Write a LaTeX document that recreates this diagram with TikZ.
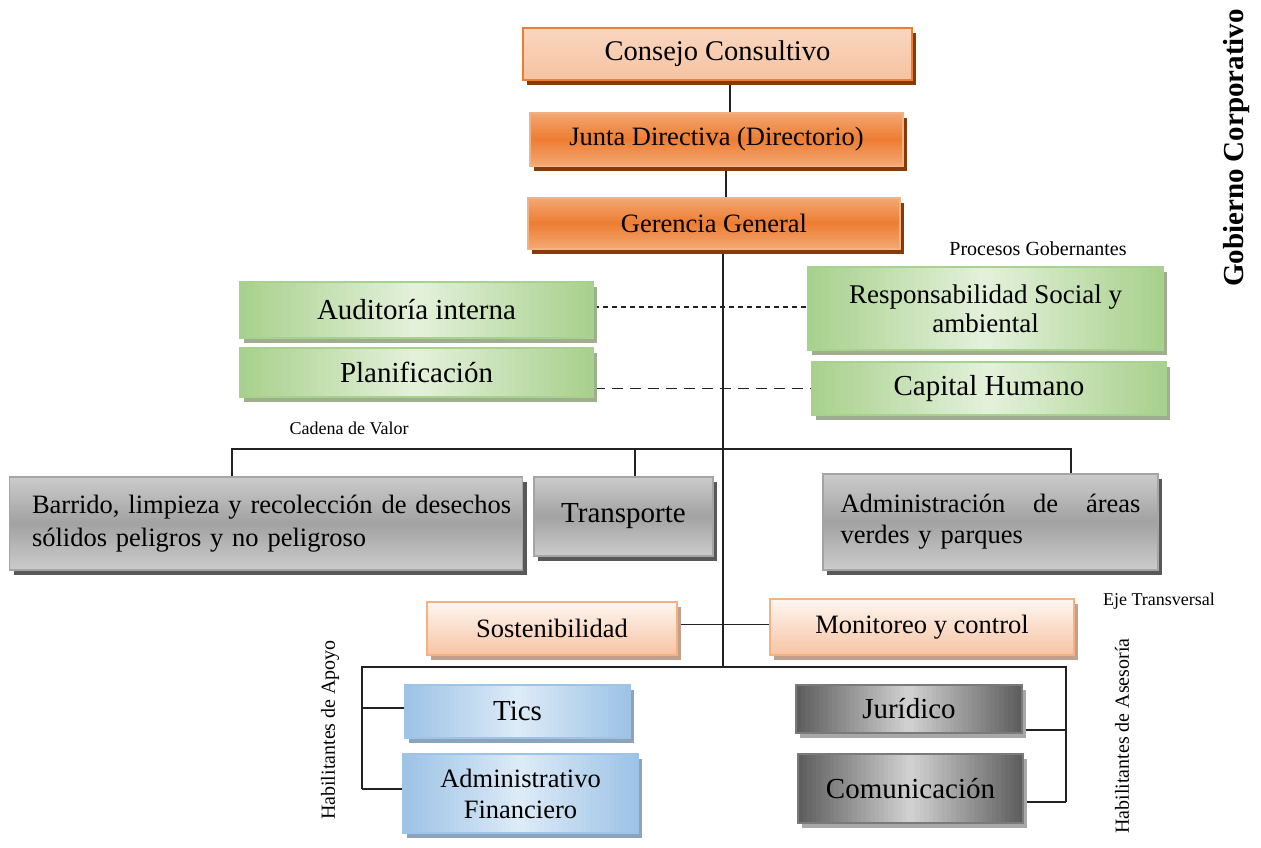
\documentclass[tikz,border=0pt]{standalone}
\usepackage{fontspec}
\setmainfont{Liberation Serif}
\usetikzlibrary{shadows,calc}
\pgfdeclarelayer{background}
\pgfsetlayers{background,main}
\definecolor{orB}{HTML}{ED7D31}
\definecolor{orL}{HTML}{F4B183}
\definecolor{orS}{HTML}{843C0C}
\definecolor{orT}{HTML}{F3A672}
\definecolor{grnB}{HTML}{A9D18E}
\definecolor{grnL}{HTML}{E4F1DB}
\definecolor{grnS}{HTML}{9EAE8E}
\definecolor{gyA}{HTML}{CACACA}
\definecolor{gyB}{HTML}{A2A2A2}
\definecolor{gyD}{HTML}{A5A5A5}
\definecolor{gryS}{HTML}{595959}
\definecolor{peS}{HTML}{C3A08C}
\definecolor{bluB}{HTML}{9DC3E6}
\definecolor{bluL}{HTML}{DEEBF7}
\definecolor{bluS}{HTML}{8CA3BC}
\definecolor{dgA}{HTML}{5E5E5E}
\definecolor{dgB}{HTML}{D2D2D2}
\definecolor{dgD}{HTML}{7A7A7A}
\definecolor{dgS}{HTML}{A8A8A8}
\definecolor{lnC}{HTML}{222222}
\definecolor{consT}{HTML}{F9D6BF}
\definecolor{consBt}{HTML}{F6C3A2}
\definecolor{peT}{HTML}{FEF6F1}
\definecolor{peBt}{HTML}{F7C5A4}
\tikzset{
  x=1pt, y=-1pt,
  boxbase/.style={draw, line width=1.6pt, inner sep=0pt, align=center,
    font=\fontsize{29}{33}\selectfont},
  shad/.style={drop shadow={shadow xshift=4pt, shadow yshift=-5pt, fill=#1, opacity=1}},
  gradV/.style 2 args={fill=#2, path picture={
    \foreach \i in {0,...,39}{
      \pgfmathsetmacro\pp{abs(\i-19.5)*5.128}
      \fill[#1!\pp!#2] ($(path picture bounding box.north west)!\i/40!(path picture bounding box.south west)$) rectangle ($(path picture bounding box.north east)!{(\i+1.15)/40}!(path picture bounding box.south east)$);
    }}},
  gradL/.style 2 args={fill=#2, path picture={
    \foreach \i in {0,...,39}{
      \pgfmathsetmacro\pp{100-\i*2.564}
      \fill[#1!\pp!#2] ($(path picture bounding box.north west)!\i/40!(path picture bounding box.south west)$) rectangle ($(path picture bounding box.north east)!{(\i+1.15)/40}!(path picture bounding box.south east)$);
    }}},
  gradH/.style 2 args={fill=#2, path picture={
    \foreach \i in {0,...,49}{
      \pgfmathsetmacro\pp{abs(\i-24.5)*4.082}
      \fill[#1!\pp!#2] ($(path picture bounding box.north west)!\i/50!(path picture bounding box.north east)$) rectangle ($(path picture bounding box.south west)!{(\i+1.15)/50}!(path picture bounding box.south east)$);
    }}},
  midfont/.style={font=\fontsize{26.5}{31}\selectfont},
  consbox/.style={boxbase, draw=orB, shad=orS, gradL={consT}{consBt}},
  orbox/.style={boxbase, draw=orL, shad=orS, gradV={orT}{orB}},
  grbox/.style={boxbase, draw=grnB, shad=grnS, gradH={grnB}{grnL}},
  gybox/.style={boxbase, draw=gyD, shad=gryS, gradV={gyA}{gyB}},
  pebox/.style={boxbase, draw=orL, shad=peS, gradL={peT}{peBt}},
  blbox/.style={boxbase, draw=bluB, shad=bluS, gradH={bluB}{bluL}},
  dgbox/.style={boxbase, draw=dgD, shad=dgS, gradH={dgA}{dgB}},
  conn/.style={draw=lnC, line width=1.3pt},
  smalllbl/.style={inner sep=0pt, font=\fontsize{20}{22}\selectfont},
}
\begin{document}
\begin{tikzpicture}
\useasboundingbox (0,0) rectangle (1261,847);

% top chain
\node[consbox, minimum width=389pt, minimum height=52pt, font=\fontsize{28.5}{33}\selectfont] (consejo) at (717.5,54) {Consejo Consultivo};
\node[orbox, minimum width=373pt, minimum height=53pt, midfont] (junta) at (716.5,139.5) {Junta Directiva (Directorio)};
\node[orbox, minimum width=372pt, minimum height=51pt, midfont] (gerencia) at (714,223.5) {Gerencia General};

% green
\node[grbox, minimum width=353pt, minimum height=56pt] (auditoria) at (416.5,310) {Auditoría interna};
\node[grbox, minimum width=353pt, minimum height=49pt] (planif) at (416.5,372.5) {Planificación};
\node[grbox, minimum width=355pt, minimum height=83pt, font=\fontsize{27}{29}\selectfont] (respons) at (985.5,308.5) {Responsabilidad Social y\\ambiental};
\node[grbox, minimum width=354pt, minimum height=53pt] (capital) at (989,388.5) {Capital Humano};

% gray
\node[gybox, minimum width=513pt, minimum height=93pt, font=\fontsize{26.5}{33}\selectfont, text width=468pt, align=left] (barrido) at (266,523.5)
  {\mbox{Barrido, limpieza y recolección de desechos}\\sólidos peligros y no peligroso};
\node[gybox, minimum width=179pt, minimum height=79pt] (transporte) at (623.5,516.5) {Transporte};
\node[gybox, minimum width=335pt, minimum height=96pt, midfont, text width=300pt, align=left] (admin) at (990.5,522)
  {\makebox[300pt][l]{Administración\hfill de\hfill áreas}\\verdes y parques};

% peach
\node[pebox, minimum width=250pt, minimum height=53pt, midfont] (sosten) at (552,628.5) {Sostenibilidad};
\node[pebox, minimum width=304pt, minimum height=56pt, midfont] (monitor) at (922,627) {Monitoreo y control};

% blue
\node[blbox, minimum width=225pt, minimum height=53pt] (tics) at (517.5,711.5) {Tics};
\node[blbox, minimum width=235pt, minimum height=79pt, midfont] (adminfin) at (520.5,793.5) {Administrativo\\Financiero};

% dark gray
\node[dgbox, minimum width=226pt, minimum height=48pt] (juridico) at (909,709) {Jurídico};
\node[dgbox, minimum width=225pt, minimum height=69pt] (comunic) at (910.5,788.5) {Comunicación};

% labels
\node[smalllbl] (lprocesos) at (1038,249) {Procesos Gobernantes};
\node[inner sep=0pt, font=\fontsize{18}{20}\selectfont] (lcadena) at (349,428) {Cadena de Valor};
\node[inner sep=0pt, font=\fontsize{18}{20}\selectfont] (leje) at (1159,601) {Eje Transversal};
\node[smalllbl, rotate=90] (lapoyo) at (330,730) {Habilitantes de Apoyo};
\node[smalllbl, rotate=90] (lasesoria) at (1122,736) {Habilitantes de Asesoría};
\node[inner sep=0pt, rotate=90, font=\bfseries\fontsize{29}{32}\selectfont] (lgob) at (1237,148) {Gobierno Corporativo};

% coordinates
\coordinate (mainx) at (723,0);
\coordinate (busy) at (0,449);
\coordinate (boty) at (0,667);
\coordinate (leftx) at (362,0);
\coordinate (rightx) at (1066,0);
\coordinate (bx1) at (232,0);
\coordinate (bx2) at (635,0);
\coordinate (bx3) at (1071,0);
\coordinate (ya) at (0,708);
\coordinate (yb) at (0,789);
\coordinate (yc) at (0,730);
\coordinate (yd) at (0,802);

\begin{pgfonlayer}{background}
\draw[conn] ([xshift=12.5pt]consejo.south) -- ([xshift=12.5pt]consejo.south |- junta.north);
\draw[conn] ([xshift=9.5pt]junta.south) -- ([xshift=9.5pt]junta.south |- gerencia.north);
\draw[conn] (gerencia.south -| mainx) -- (boty -| mainx);
% dashed
\draw[conn, dash pattern=on 5pt off 4pt] ([yshift=3pt]auditoria.east) -- ([yshift=3pt]auditoria.east -| respons.west);
\draw[conn, dash pattern=on 11pt off 7pt] (planif.east |- capital.west) -- (capital.west);
% value chain bus
\draw[conn] (barrido.north -| bx1) -- (busy -| bx1) -- (busy -| bx3) -- (admin.north -| bx3);
\draw[conn] (busy -| bx2) -- (transporte.north -| bx2);
% transversal
\draw[conn] ([yshift=4pt]sosten.east) -- ([yshift=4pt]sosten.east -| monitor.west);
% bottom bus
\draw[conn] (yb -| leftx) -- (boty -| leftx) -- (boty -| rightx) -- (yd -| rightx);
\draw[conn] (yb -| leftx) -- (yb -| adminfin.west);
\draw[conn] (ya -| leftx) -- (ya -| tics.west);
\draw[conn] (yc -| juridico.east) -- (yc -| rightx);
\draw[conn] (yd -| comunic.east) -- (yd -| rightx);
\end{pgfonlayer}
\end{tikzpicture}
\end{document}
